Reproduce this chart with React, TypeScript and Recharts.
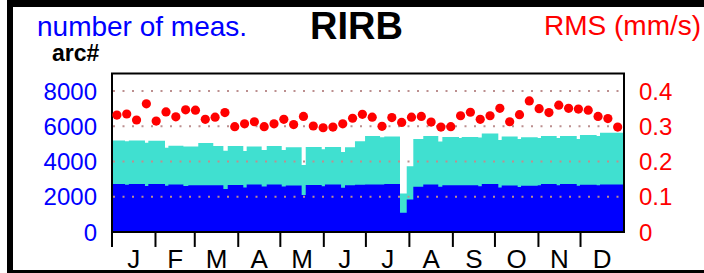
import React from 'react';
import {
  ComposedChart,
  Area,
  Line,
  XAxis,
  YAxis,
  ReferenceLine,
  ReferenceArea,
} from 'recharts';

// day of year where each step of the bar blocks starts (last entry closes the year)
const segStart = [
  0, 9.3, 12, 23.5, 25.9, 37.8, 40.2, 50.9, 54.4, 61.5, 72.2, 79.4, 82.5, 93.6, 96,
  106.7, 110.3, 121, 123.9, 135.2, 138.1, 149.5, 151.8, 163.3, 166.1, 173.2, 180.4,
  191.1, 194.1, 205.3, 210.1, 214.8, 221.9, 232.6, 235.5, 247.4, 249.3, 261.1, 263.6,
  275.4, 277.8, 289.2, 291.6, 303.5, 305.8, 317, 319.4, 331.3, 333.6, 345.5, 347.9, 365,
];
// all arcs (turquoise top)
const arcTotal = [
  5200, 5150, 5200, 5070, 5180, 4780, 4900, 4860, 4860, 5050, 4880, 4610, 4880, 4600, 4860,
  4660, 4880, 4660, 4810, 3800, 4830, 4700, 4830, 4540, 4810, 5150, 5450,
  5380, 5420, 2190, 3740, 5280, 5450, 5140, 5400, 5340, 5400, 5360, 5600,
  5220, 5420, 5280, 5380, 5340, 5450, 5340, 5450, 5280, 5510, 5450, 5640, 5640,
];
// used arcs (blue)
const arcUsed = [
  2720, 2680, 2720, 2610, 2720, 2630, 2700, 2610, 2650, 2650, 2650, 2440, 2670, 2530, 2700,
  2580, 2700, 2580, 2640, 2100, 2670, 2600, 2700, 2510, 2650, 2680, 2700,
  2700, 2720, 1090, 1850, 2570, 2700, 2570, 2650, 2650, 2650, 2600, 2720,
  2530, 2640, 2560, 2620, 2650, 2720, 2650, 2720, 2620, 2680, 2650, 2700, 2700,
];

// weekly RMS (mm/s)
const rmsWeekly = [
  0.332, 0.335, 0.318, 0.364, 0.315, 0.341, 0.327, 0.347, 0.346, 0.32, 0.326, 0.339, 0.299,
  0.307, 0.313, 0.299, 0.307, 0.32, 0.305, 0.328, 0.301, 0.296, 0.298, 0.307, 0.323, 0.334,
  0.326, 0.3, 0.325, 0.311, 0.326, 0.328, 0.312, 0.298, 0.299, 0.33, 0.34, 0.32, 0.33,
  0.351, 0.313, 0.333, 0.372, 0.35, 0.339, 0.36, 0.351, 0.349, 0.346, 0.328, 0.322, 0.298,
];

const monthStarts = [0, 31, 59, 90, 120, 151, 181, 212, 243, 273, 304, 334];
const monthMids = [15.5, 45, 74.5, 105, 135.5, 166, 196.5, 227.5, 258, 288.5, 319, 349.5];
const monthLabels = ['J', 'F', 'M', 'A', 'M', 'J', 'J', 'A', 'S', 'O', 'N', 'D'];
const leftTicks = [0, 2000, 4000, 6000, 8000];
const rightTicks = [0, 0.1, 0.2, 0.3, 0.4];
const gridLines = [2000, 4000, 6000, 8000];
const tickDepth = -850; // month tick marks hang below the zero line

const FONT = '"Liberation Sans", Arial, sans-serif';

const barData = segStart.map((day, i) => ({ day, total: arcTotal[i], used: arcUsed[i] }));
const rmsData = rmsWeekly.map((rms, i) => ({ day: (i + 0.5) * 7, rms }));

export default function App() {
  return (
    <div style={{ position: 'absolute', left: 0, top: 0, width: 704, height: 273, background: '#fff', fontFamily: FONT }}>
      <div
        style={{
          position: 'absolute',
          left: 7,
          top: 0,
          width: 697,
          height: 273,
          boxSizing: 'border-box',
          borderLeft: '6px solid #000',
          borderTop: '7px solid #000',
          borderBottom: '3px solid #000',
        }}
      />
      <svg width={704} height={273} style={{ position: 'absolute', left: 0, top: 0 }}>
        <text x={37} y={36} fontSize={28} fill="#0000FF" fontFamily={FONT}>number of meas.</text>
        <text x={310} y={39} fontSize={38} fontWeight="bold" fill="#000" fontFamily={FONT}>RIRB</text>
        <text x={544} y={35} fontSize={28} fill="#FF0000" fontFamily={FONT}>RMS (mm/s)</text>
        <text x={52} y={61} fontSize={23} fontWeight="bold" fill="#000" fontFamily={FONT}>arc#</text>
      </svg>
      <div style={{ position: 'absolute', left: 0, top: 0 }}>
        <ComposedChart
          width={704}
          height={273}
          data={barData}
          margin={{ top: 73.5, right: 0, bottom: 0, left: 0 }}
        >
          <XAxis
            xAxisId="lab"
            dataKey="day"
            type="number"
            domain={[0, 365]}
            allowDataOverflow
            ticks={monthMids}
            interval={0}
            tickFormatter={(v: number) => monthLabels[monthMids.indexOf(v)] ?? ''}
            axisLine={false}
            tickLine={false}
            tickSize={0}
            tickMargin={17.5}
            height={41}
            tick={{ fill: '#000', fontSize: 26, fontFamily: FONT }}
          />
          <YAxis
            yAxisId="left"
            domain={[0, 9000]}
            ticks={leftTicks}
            interval={0}
            allowDataOverflow
            axisLine={false}
            tickLine={false}
            tickSize={0}
            tickMargin={15}
            width={112}
            tick={{ fill: '#0000FF', fontSize: 24, fontFamily: FONT }}
          />
          <YAxis
            yAxisId="right"
            orientation="right"
            domain={[0, 0.45]}
            ticks={rightTicks}
            interval={0}
            tickFormatter={(v: number) => (v === 0 ? '0' : v.toFixed(1))}
            axisLine={false}
            tickLine={false}
            tickSize={0}
            tickMargin={15}
            width={80}
            tick={{ fill: '#FF0000', fontSize: 24, fontFamily: FONT, textAnchor: 'start' }}
          />
          <Area
            xAxisId="lab"
            yAxisId="left"
            type="stepAfter"
            dataKey="total"
            fill="#40E0D0"
            fillOpacity={1}
            stroke="none"
            isAnimationActive={false}
            activeDot={false}
          />
          <Area
            xAxisId="lab"
            yAxisId="left"
            type="stepAfter"
            dataKey="used"
            fill="#0000FF"
            fillOpacity={1}
            stroke="none"
            isAnimationActive={false}
            activeDot={false}
          />
          {gridLines.map((g) => (
            <ReferenceLine
              key={g}
              xAxisId="lab"
              yAxisId="left"
              y={g}
              stroke="#BC8F8F"
              strokeWidth={2}
              strokeDasharray="2 7.5"
              strokeDashoffset={-1}
            />
          ))}
          {monthStarts.map((d) => (
            <ReferenceLine
              key={`m-${d}`}
              xAxisId="lab"
              yAxisId="left"
              segment={[{ x: d, y: 0 }, { x: d, y: tickDepth }]}
              stroke="#000"
              strokeWidth={2}
              ifOverflow="visible"
            />
          ))}
          <Line
            xAxisId="lab"
            yAxisId="right"
            data={rmsData}
            dataKey="rms"
            stroke="none"
            dot={{ r: 4.6, fill: '#FF0000', stroke: 'none' }}
            activeDot={false}
            isAnimationActive={false}
          />
          <ReferenceArea
            xAxisId="lab"
            yAxisId="left"
            x1={0}
            x2={365}
            y1={0}
            y2={9000}
            fill="none"
            fillOpacity={0}
            stroke="#000"
            strokeWidth={2}
            ifOverflow="visible"
          />
        </ComposedChart>
      </div>
    </div>
  );
}
